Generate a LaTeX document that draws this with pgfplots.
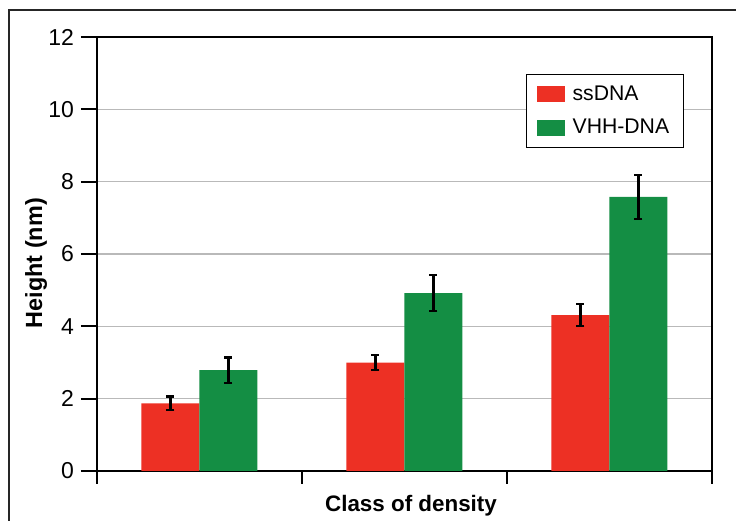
\documentclass[border=0pt]{standalone}
\usepackage{pgfplots}
\pgfplotsset{compat=1.18}
\usepackage{fontspec}
\setmainfont{Liberation Sans}
\definecolor{barred}{RGB}{237,48,36}
\definecolor{bargreen}{RGB}{20,142,68}
\begin{document}
\begin{tikzpicture}
\useasboundingbox (-48.5pt,-25pt) rectangle (319.5pt,235.5pt);
\draw[line width=0.6pt, black!85] (-44pt,-40pt) -- (-44pt,230.5pt) -- (340pt,230.5pt);
\begin{axis}[
  scale only axis,
  width=307.5pt, height=217pt,
  xmin=0, xmax=3, ymin=0, ymax=12,
  xtick=\empty,
  extra x ticks={0,1,2,3}, extra x tick labels={},
  extra x tick style={major tick length=6.5pt},
  ytick={0,2,...,12},
  tick pos=left,
  ymajorgrids,
  grid style={gray!55, line width=0.6pt},
  axis line style={line width=1pt, black},
  tick align=outside,
  major tick length=8pt,
  tick style={line width=1pt, black},
  tick label style={font=\fontsize{11.5}{13}\selectfont},
  /pgf/number format/assume math mode=true,
  ybar=0pt, bar width=29pt,
  xlabel={Class of density},
  ylabel={Height (nm)},
  xlabel style={font=\fontsize{11.2}{13}\selectfont\bfseries, at={(axis description cs:0.5106,-0.081)}, anchor=center},
  ylabel style={font=\fontsize{11.7}{14}\selectfont\bfseries, at={(axis description cs:-0.099,0.479)}, anchor=center},
  legend style={at={(axis description cs:0.6976,0.9147)}, anchor=north west,
    draw=black, line width=0.6pt, font=\fontsize{10.6}{12}\selectfont,
    inner xsep=5pt, inner ysep=3.5pt, row sep=4pt,
    cells={anchor=west},
    /tikz/every odd column/.append style={column sep=2pt}},
  legend image code/.code={\fill[#1] (0pt,-4pt) rectangle (14pt,4pt);},
]
\addplot[fill=barred, draw=none,
  error bars/.cd, y dir=both, y explicit,
  error bar style={line width=1.1pt, black},
  error mark options={rotate=90, mark size=2pt, line width=1.1pt, black}]
  coordinates {(0.5,1.87) +- (0,0.19) (1.5,3.00) +- (0,0.21) (2.5,4.31) +- (0,0.31)};
\addplot[fill=bargreen, draw=none,
  error bars/.cd, y dir=both, y explicit,
  error bar style={line width=1.1pt, black},
  error mark options={rotate=90, mark size=2pt, line width=1.1pt, black}]
  coordinates {(0.5,2.79) +- (0,0.35) (1.5,4.92) +- (0,0.50) (2.5,7.58) +- (0,0.61)};
\legend{ssDNA, VHH-DNA}
\end{axis}
\end{tikzpicture}
\end{document}
